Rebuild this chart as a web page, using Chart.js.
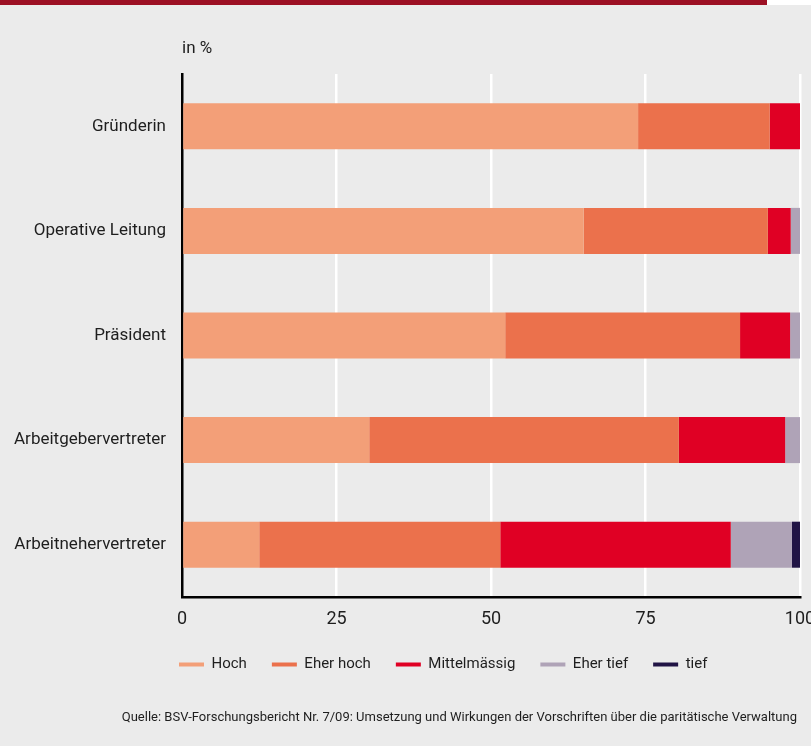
<!DOCTYPE html>
<html>
<head>
<meta charset="utf-8">
<script src="https://cdn.jsdelivr.net/npm/chart.js@4/dist/chart.umd.min.js"></script>
<style>
  html, body { margin: 0; padding: 0; background: #ebebeb; }
  #wrap { position: relative; width: 811px; height: 746px; background: #ebebeb; overflow: hidden; }
  #band { position: absolute; left: 0; top: 0; width: 767px; height: 5px; background: #9c1024; }
  #bandw { position: absolute; left: 767px; top: 0; width: 44px; height: 5px; background: #ffffff; }
  #unit { position: absolute; left: 182px; top: 37px; font: 17px "Roboto", sans-serif; color: #1e1e1e; }
  #src { position: absolute; right: 14px; top: 709px; font: 13px "Roboto", sans-serif; color: #1e1e1e; }
  canvas { position: absolute; left: 0; top: 0; }
</style>
</head>
<body>
<div id="wrap">
  <div id="band"></div><div id="bandw"></div>
  <canvas id="c" width="811" height="746"></canvas>
  <div id="unit">in %</div>
  <div id="src">Quelle: BSV-Forschungsbericht Nr. 7/09: Umsetzung und Wirkungen der Vorschriften über die paritätische Verwaltung</div>
</div>
<script>
const categories = ["Gründerin", "Operative Leitung", "Präsident", "Arbeitgebervertreter", "Arbeitnehervertreter"];
const seriesNames = ["Hoch", "Eher hoch", "Mittelmässig", "Eher tief", "tief"];
const hoch        = [73.8, 65.0, 52.3, 30.3, 12.5];
const eherHoch    = [21.3, 29.8, 38.0, 50.1, 39.0];
const mittel      = [4.9, 3.7, 8.1, 17.2, 37.3];
const eherTief    = [0, 1.5, 1.6, 2.4, 9.9];
const tief        = [0, 0, 0, 0, 1.3];
const xTicks      = [0, 25, 50, 75, 100];
const colors      = ["#f39f78", "#eb714c", "#e00024", "#afa3b7", "#211445"];

const FONT = '"Roboto", sans-serif';
const seriesData = [hoch, eherHoch, mittel, eherTief, tief];
const LEGEND_PAD = 25;

const legendShift = {
  id: 'legendShift',
  beforeDraw(chart) {
    if (chart.legend) chart.legend.left = chart.chartArea.left - 3 - LEGEND_PAD;
  }
};

new Chart(document.getElementById('c'), {
  type: 'bar',
  data: {
    labels: categories,
    datasets: seriesData.map((d, i) => ({
      label: seriesNames[i],
      data: d,
      backgroundColor: colors[i],
      borderWidth: 0,
      categoryPercentage: 1,
      barPercentage: 0.44
    }))
  },
  plugins: [legendShift],
  options: {
    indexAxis: 'y',
    responsive: false,
    animation: false,
    devicePixelRatio: 1,
    layout: { padding: { left: 0, right: 11, top: 74, bottom: 64 } },
    scales: {
      x: {
        stacked: true,
        min: 0, max: 100,
        afterBuildTicks: s => { s.ticks = xTicks.map(v => ({ value: v })); },
        afterFit: s => { s.paddingLeft = 0; s.paddingRight = 0; s.height = 35; },
        ticks: { padding: 12, color: '#1e1e1e', font: { family: FONT, size: 18 } },
        grid: {
          drawTicks: false,
          lineWidth: 2.5,
          color: ctx => (ctx.tick && ctx.tick.value === 0) ? 'rgba(0,0,0,0)' : '#ffffff'
        },
        border: { display: true, color: '#000000', width: 2.5 }
      },
      y: {
        stacked: true,
        afterFit: s => { s.width = 182; },
        ticks: { padding: 16, color: '#1e1e1e', font: { family: FONT, size: 17 } },
        grid: { display: false, drawTicks: false },
        border: { display: true, color: '#000000', width: 2.5 }
      }
    },
    plugins: {
      tooltip: { enabled: false },
      legend: {
        position: 'bottom',
        align: 'start',
        labels: {
          boxWidth: 25,
          boxHeight: 4,
          padding: LEGEND_PAD,
          color: '#1e1e1e',
          font: { family: FONT, size: 15 },
          generateLabels: chart => chart.data.datasets.map((ds, i) => ({
            text: ds.label,
            fillStyle: colors[i],
            strokeStyle: colors[i],
            lineWidth: 0,
            hidden: false,
            datasetIndex: i,
            fontColor: '#1e1e1e'
          }))
        }
      }
    }
  }
});
</script>
</body>
</html>
